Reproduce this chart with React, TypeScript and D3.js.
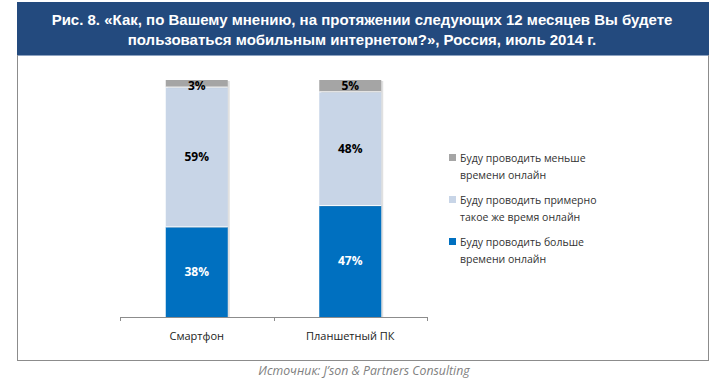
import { useEffect } from "react";
import * as d3 from "d3";

// data
const categories = ["Смартфон", "Планшетный ПК"];
const seriesNames = [
  "Буду проводить больше времени онлайн",
  "Буду проводить примерно такое же время онлайн",
  "Буду проводить меньше времени онлайн",
];
const more = [38, 47];
const same = [59, 48];
const less = [3, 5];
const legendLines = [
  ["Буду проводить меньше", "времени онлайн"],
  ["Буду проводить примерно", "такое же время онлайн"],
  ["Буду проводить больше", "времени онлайн"],
];
const titleLines = [
  "Рис. 8. «Как, по Вашему мнению, на протяжении следующих 12 месяцев Вы будете",
  "пользоваться мобильным интернетом?», Россия, июль 2014 г.",
];
const source = "Источник: J’son & Partners Consulting";

const colors = ["#0070C0", "#C8D5E7", "#A5A5A5"];
const labelColors = ["#ffffff", "#000000", "#000000"];

const W = 716;
const H = 387;

export default function App() {
  useEffect(() => {
    document.body.style.margin = "0";
  }, []);

  const x = d3.scaleBand<string>().domain(categories).range([120, 427]);
  const y = d3.scaleLinear().domain([0, 100]).range([317, 80]);
  const barW = 62;

  const rows = categories.map((c, i) => ({ cat: c, more: more[i], same: same[i], less: less[i] }));
  const stacked = d3.stack<any>().keys(["more", "same", "less"])(rows);

  const font = "'Open Sans', 'DejaVu Sans', sans-serif";

  return (
    <svg width={W} height={H} style={{ display: "block", background: "#fff" }}>
      {/* header */}
      <rect x={17} y={2} width={692} height={53} fill="#234A7E" />
      <line x1={17} x2={709} y1={55.5} y2={55.5} stroke="#8DA2C0" />
      {titleLines.map((t, i) => (
        <text
          key={i}
          x={362}
          y={25 + i * 20}
          textAnchor="middle"
          fill="#fff"
          fontFamily="'Liberation Sans Narrow', 'Arial Narrow', sans-serif"
          fontWeight="bold"
          fontSize={15}
        >
          {t}
        </text>
      ))}
      {/* frame */}
      <line x1={17.5} x2={17.5} y1={55} y2={360} stroke="#8c8c8c" />
      <line x1={708.5} x2={708.5} y1={55} y2={360} stroke="#8c8c8c" />
      <line x1={17} x2={709} y1={360.5} y2={360.5} stroke="#8c8c8c" />

      {/* bars */}
      {stacked.map((s, si) => (
        <g key={si}>
          {s.map((d, i) => {
            const cx = (x(categories[i]) ?? 0) + x.bandwidth() / 2;
            const y0 = y(d[1]);
            const h = y(d[0]) - y(d[1]);
            return (
              <g key={i}>
                <rect x={cx - barW / 2 + 2} y={y0 + 1} width={barW} height={h} fill="#000" opacity={0.12} />
                <rect x={cx - barW / 2} y={y0} width={barW} height={h} fill={colors[si]} />
                {si > 0 && (
                  <line x1={cx - barW / 2} x2={cx + barW / 2} y1={y(d[0])} y2={y(d[0])} stroke="#fff" strokeWidth={1} />
                )}
                <text
                  x={cx}
                  y={si === 2 ? y0 + 10 : (y(d[0]) + y(d[1])) / 2 + 4}
                  textAnchor="middle"
                  fontFamily={font}
                  fontWeight="bold"
                  fontSize={12}
                  fill={labelColors[si]}
                >
                  {d[1] - d[0]}%
                </text>
              </g>
            );
          })}
        </g>
      ))}

      {/* axis */}
      <line x1={120} x2={427} y1={317.5} y2={317.5} stroke="#8c8c8c" />
      {[0, 1, 2].map((k) => {
        const tx = Math.round(120 + k * x.step()) + 0.5;
        return <line key={k} x1={tx} x2={tx} y1={317} y2={321} stroke="#8c8c8c" />;
      })}
      {categories.map((c) => (
        <text
          key={c}
          x={(x(c) ?? 0) + x.bandwidth() / 2}
          y={340}
          textAnchor="middle"
          fontFamily={font}
          fontSize={11}
          fill="#222"
        >
          {c}
        </text>
      ))}

      {/* legend */}
      {legendLines.map((ln, i) => {
        const si = 2 - i;
        const ly = 158 + i * 42;
        return (
          <g key={i} aria-label={seriesNames[si]}>
            <rect x={449} y={ly - 4} width={7} height={7} fill={colors[si]} />
            {ln.map((t, j) => (
              <text key={j} x={460} y={ly + 4 + j * 17} fontFamily={font} fontSize={10.5} fill="#333">
                {t}
              </text>
            ))}
          </g>
        );
      })}

      {/* source */}
      <text
        x={364}
        y={375}
        textAnchor="middle"
        fontFamily={font}
        fontStyle="italic"
        fontSize={12.3}
        fill="#7f7f7f"
      >
        {source}
      </text>
    </svg>
  );
}
